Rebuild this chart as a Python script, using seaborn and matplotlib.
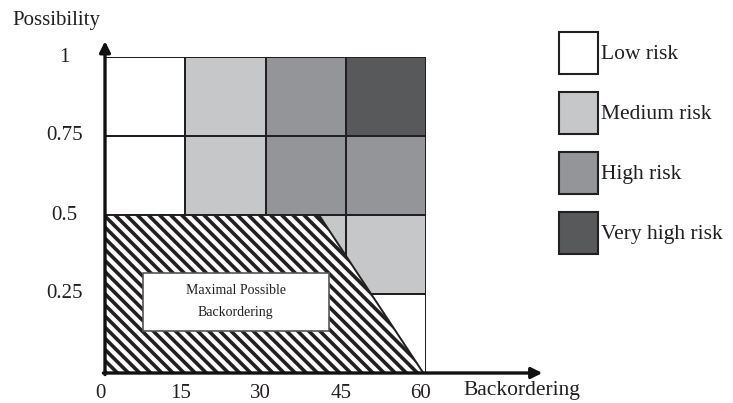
import numpy as np
import pandas as pd
import matplotlib
matplotlib.use('Agg')
import matplotlib.pyplot as plt
import seaborn as sns
from matplotlib.colors import ListedColormap
from matplotlib.patches import Patch, Polygon, Rectangle
import matplotlib.transforms as mtransforms

# ============================================================
# DATA
# ============================================================
# backordering bands (x) and possibility bands (y)
backorder_ticks = [0, 15, 30, 45, 60]
possibility_ticks = [0.25, 0.5, 0.75, 1]
possibility_labels = ['0.25', '0.5', '0.75', '1']

# risk level per cell, rows from bottom (0-0.25) to top (0.75-1)
# 0 = low, 1 = medium, 2 = high, 3 = very high
risk_row_0_25 = [0, 0, 0, 0]
risk_row_25_50 = [0, 0, 1, 1]
risk_row_50_75 = [0, 1, 2, 2]
risk_row_75_100 = [0, 1, 2, 3]

risk_names = ['Low risk', 'Medium risk', 'High risk', 'Very high risk']
risk_colors = ['#ffffff', '#c6c7c9', '#939598', '#58595b']

# maximal possible backordering region (backordering, possibility)
max_backorder_x = [0, 0, 40, 59.5]
max_backorder_y = [0, 0.5, 0.5, 0]

EDGE = '#231f20'
TXT = '#231f20'

# ============================================================
# STYLE
# ============================================================
sns.set_theme(style='white')
plt.rcParams['font.family'] = ['Liberation Serif', 'DejaVu Serif']
plt.rcParams['hatch.linewidth'] = 2.6
plt.rcParams['hatch.color'] = '#111111'

fig = plt.figure(figsize=(7.33, 4.03), dpi=100)
ax = fig.add_axes([105 / 733, 30 / 403, 321 / 733, 316 / 403])

matrix = pd.DataFrame(
    [risk_row_0_25, risk_row_25_50, risk_row_50_75, risk_row_75_100],
    columns=backorder_ticks[1:],
    index=possibility_ticks,
)

sns.heatmap(matrix, ax=ax, cmap=ListedColormap(risk_colors), vmin=-0.5, vmax=3.5,
            cbar=False, linewidths=1.3, linecolor=EDGE, square=False)
ax.invert_yaxis()
ax.set_xlim(0, 4)
ax.set_ylim(0, 4)

# convert data units to cell units
x_step = backorder_ticks[1] - backorder_ticks[0]
y_step = possibility_ticks[1] - possibility_ticks[0]
poly_pts = [(bx / x_step, py / y_step) for bx, py in zip(max_backorder_x, max_backorder_y)]
ax.add_patch(Polygon(poly_pts, closed=True, facecolor='white', edgecolor=EDGE,
                     hatch='\\\\\\', linewidth=1.4, zorder=3))

# label box inside hatched area
ax.add_patch(Rectangle((0.47, 0.53), 2.32, 0.73, facecolor='white',
                       edgecolor='#555555', linewidth=1.2, zorder=4))
ax.text(1.63, 0.91, 'Maximal Possible\n\nBackordering', ha='center', va='center',
        fontsize=10, linespacing=0.8, color=TXT, zorder=5)

# axes with arrows
for s in ax.spines.values():
    s.set_visible(False)
arrow_kw = dict(arrowstyle='-|>', lw=2.4, color='#111111', mutation_scale=16,
                shrinkA=0, shrinkB=0)
ax.annotate('', xy=(0, 4.2), xytext=(0, -0.02), arrowprops=arrow_kw, annotation_clip=False, zorder=6)
ax.annotate('', xy=(5.45, 0), xytext=(-0.02, 0), arrowprops=arrow_kw, annotation_clip=False, zorder=6)

# ticks
ax.set_xticks(range(len(backorder_ticks)))
ax.set_xticklabels([str(t) for t in backorder_ticks], fontsize=15, color=TXT)
ax.set_yticks(range(1, len(possibility_ticks) + 1))
ax.set_yticklabels(possibility_labels, fontsize=15, color=TXT, rotation=0, ha='center')
ax.tick_params(axis='x', length=0, pad=8)
ax.tick_params(axis='y', length=0, pad=29)
shift = mtransforms.ScaledTranslation(-5 / 100, 0, fig.dpi_scale_trans)
for lbl in ax.get_xticklabels():
    lbl.set_transform(lbl.get_transform() + shift)

ax.set_xlabel('Backordering', fontsize=15.5, color=TXT, va='center')
ax.xaxis.set_label_coords(1.30, -0.054)
ax.set_ylabel('Possibility', fontsize=15, color=TXT, rotation=0, va='center')
ax.yaxis.set_label_coords(-0.153, 1.117)

# legend
handles = [Patch(facecolor=c, edgecolor=EDGE, linewidth=1.5, label=n)
           for c, n in zip(risk_colors, risk_names)]
fig.legend(handles=handles, loc='upper left', bbox_to_anchor=(559 / 733, 1 - 32 / 403),
           frameon=False, fontsize=15.5, borderpad=0, borderaxespad=0,
           handlelength=1.8, handleheight=2.6, handletextpad=0.15, labelspacing=0.85,
           labelcolor=TXT)

fig.savefig('out.png', dpi=100)
